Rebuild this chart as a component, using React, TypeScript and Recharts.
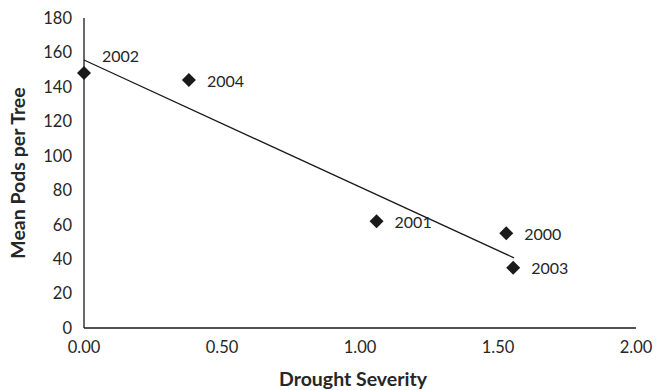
import React from "react";
import { ScatterChart, Scatter, XAxis, YAxis, ReferenceLine, LabelList, Label } from "recharts";

const years = ["2002", "2004", "2001", "2000", "2003"];
const droughtSeverity = [0.0, 0.38, 1.06, 1.53, 1.555];
const meanPods = [148, 144, 62, 55, 35];
const trendX = [0, 1.558];
const trendY = [155.6, 40.7];
const xTicks = [0, 0.5, 1, 1.5, 2];
const yTicks = [0, 20, 40, 60, 80, 100, 120, 140, 160, 180];

const data = years.map((y, i) => ({ year: y, x: droughtSeverity[i], y: meanPods[i] }));

const FONT = "Lato, 'Open Sans', sans-serif";
const TEXT = "#262626";
const INK = "#1a1a1a";

const Diamond = (props: any) => {
  const { cx, cy } = props;
  const r = 7;
  return (
    <polygon
      points={`${cx},${cy - r} ${cx + r},${cy} ${cx},${cy + r} ${cx - r},${cy}`}
      fill={INK}
    />
  );
};

const YearLabel = (props: any) => {
  const { x, y, width, height, value } = props;
  const cx = x + (width || 0) / 2;
  const cy = y + (height || 0) / 2;
  const above = value === "2002";
  return (
    <text
      x={cx + 18}
      y={cy + (above ? -17 : 1)}
      dy="0.36em"
      fontFamily={FONT}
      fontSize={16}
      fill={TEXT}
      textAnchor="start"
    >
      {value}
    </text>
  );
};

const XTitle = (props: any) => {
  const { viewBox } = props;
  return (
    <text
      x={viewBox.x + viewBox.width / 2 - 7}
      y={viewBox.y + viewBox.height - 4}
      textAnchor="middle"
      fontFamily={FONT}
      fontWeight="bold"
      fontSize={19.5}
      fill={TEXT}
    >
      Drought Severity
    </text>
  );
};

const YTitle = (props: any) => {
  const { viewBox } = props;
  const cx = 25;
  const cy = viewBox.y + viewBox.height / 2;
  return (
    <text
      x={cx}
      y={cy}
      transform={`rotate(-90, ${cx}, ${cy})`}
      textAnchor="middle"
      fontFamily={FONT}
      fontWeight="bold"
      fontSize={19.5}
      fill={TEXT}
    >
      Mean Pods per Tree
    </text>
  );
};

export default function App() {
  return (
    <div style={{ position: "absolute", left: 0, top: 0, background: "#fff" }}>
      <ScatterChart width={656} height={390} margin={{ top: 18, right: 20, bottom: 0, left: 0 }}>
        <XAxis
          type="number"
          dataKey="x"
          domain={[0, 2]}
          ticks={xTicks}
          tickFormatter={(v: number) => v.toFixed(2)}
          tickLine={false}
          tickMargin={7}
          height={62}
          axisLine={{ stroke: INK, strokeWidth: 1.3 }}
          tick={{ fontFamily: FONT, fontSize: 16.5, fill: TEXT }}
          interval={0}
        >
          <Label content={<XTitle />} />
        </XAxis>
        <YAxis
          type="number"
          dataKey="y"
          domain={[0, 180]}
          ticks={yTicks}
          tickLine={false}
          tickMargin={6}
          width={84}
          axisLine={{ stroke: INK, strokeWidth: 1.3 }}
          tick={{ fontFamily: FONT, fontSize: 16.5, fill: TEXT }}
          interval={0}
        >
          <Label content={<YTitle />} />
        </YAxis>
        <ReferenceLine
          segment={[
            { x: trendX[0], y: trendY[0] },
            { x: trendX[1], y: trendY[1] },
          ]}
          stroke={INK}
          strokeWidth={1.3}
          ifOverflow="visible"
        />
        <Scatter data={data} shape={<Diamond />} isAnimationActive={false}>
          <LabelList dataKey="year" content={<YearLabel />} />
        </Scatter>
      </ScatterChart>
    </div>
  );
}
